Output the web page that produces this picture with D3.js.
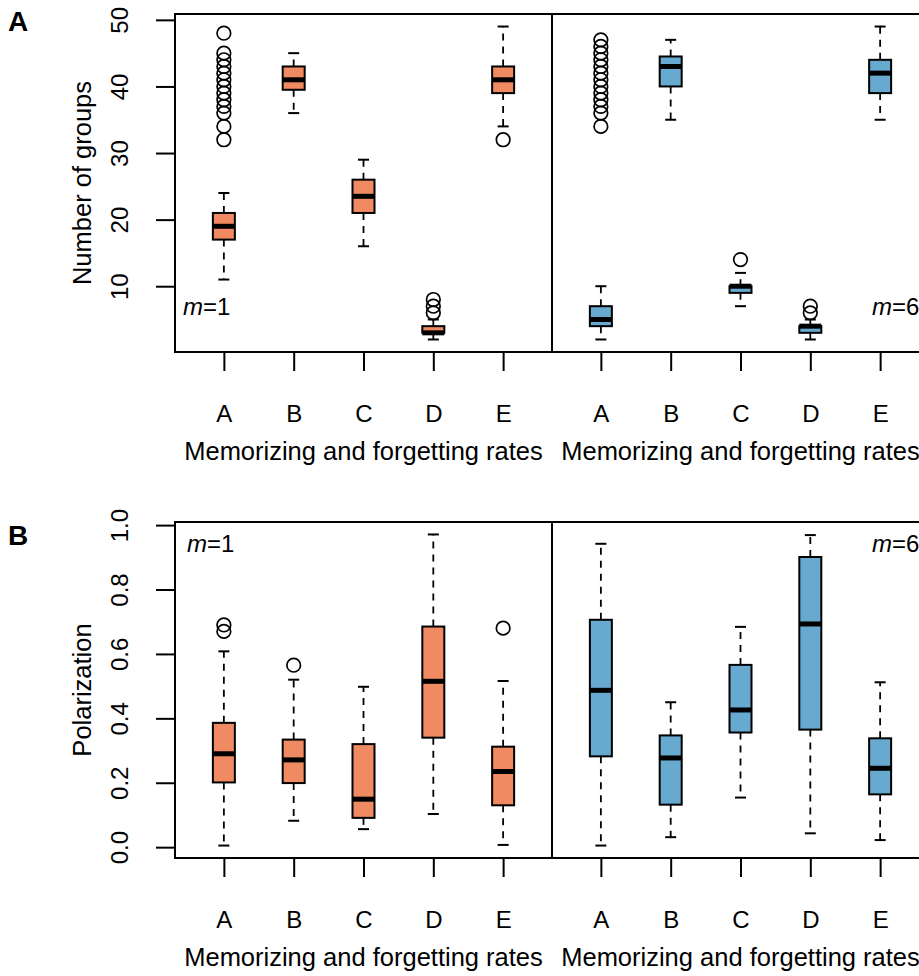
<!DOCTYPE html>
<html>
<head>
<meta charset="utf-8">
<script src="https://cdn.jsdelivr.net/npm/d3@7"></script>
<style>
  html, body { margin: 0; padding: 0; background: #fff; overflow: hidden; }
  svg { display: block; font-family: "Liberation Sans", Arial, Helvetica, sans-serif; }
</style>
</head>
<body>
<svg id="chart" width="919" height="976"></svg>
<script>
// Categories of memorizing / forgetting rates
const categories = ["A", "B", "C", "D", "E"];
const paramLabels = ["1", "6"];

// Five-number summaries [lowerWhisker, Q1, median, Q3, upperWhisker]
// Panel A: number of groups
const groupsM1 = [[11, 17, 19, 21, 24], [36, 39.5, 41, 43, 45], [16, 21, 23.5, 26, 29], [2, 3, 3, 4, 5], [34, 39, 41, 43, 49]];
const groupsM1Out = [[32, 34, 36, 37, 38, 39, 40, 41, 42, 43, 44, 45, 48], [], [], [6, 7, 8], [32]];
const groupsM6 = [[2, 4, 5, 7, 10], [35, 40, 43, 44.5, 47], [7, 9, 10, 10, 12], [2, 3, 4, 4, 5], [35, 39, 42, 44, 49]];
const groupsM6Out = [[34, 36, 37, 38, 39, 40, 41, 42, 43, 44, 45, 46, 47], [], [14], [6, 7], []];
const groupsTicks = [10, 20, 30, 40, 50];

// Panel B: polarization
const polarM1 = [[0.005, 0.201, 0.29, 0.386, 0.608], [0.082, 0.199, 0.271, 0.334, 0.52], [0.056, 0.091, 0.149, 0.32, 0.498], [0.103, 0.34, 0.515, 0.685, 0.971], [0.007, 0.13, 0.235, 0.312, 0.516]];
const polarM1Out = [[0.67, 0.69], [0.565], [], [], [0.68]];
const polarM6 = [[0.005, 0.282, 0.487, 0.706, 0.942], [0.031, 0.132, 0.277, 0.347, 0.45], [0.154, 0.356, 0.426, 0.566, 0.684], [0.043, 0.365, 0.693, 0.901, 0.969], [0.022, 0.164, 0.245, 0.338, 0.512]];
const polarM6Out = [[], [], [], [], []];
const polarTicks = [0.0, 0.2, 0.4, 0.6, 0.8, 1.0];

const colors = ["#EF8A62", "#67A9CF"];

const svg = d3.select("#chart");

const plotW = 377;
const panelX = [175, 552];

// R-style axis range: data extent padded by 4%
function paddedDomain(series) {
  const vals = [];
  series.forEach(s => s.forEach(arr => arr.forEach(v => vals.push(v))));
  const [lo, hi] = d3.extent(vals);
  const pad = (hi - lo) * 0.04;
  return [lo - pad, hi + pad];
}

function drawRow(cfg) {
  const y = d3.scaleLinear().domain(paddedDomain(cfg.all)).range([cfg.bottom, cfg.top]);

  cfg.sets.forEach((set, p) => {
    const x0 = panelX[p];
    const x = d3.scaleLinear().domain([0.3, 5.7]).range([x0, x0 + plotW]);
    const g = svg.append("g");
    const halfBox = 11, halfStaple = 5.5;

    categories.forEach((cat, i) => {
      const s = set.stats[i];
      const cx = x(i + 1);
      // whiskers
      g.append("line").attr("x1", cx).attr("x2", cx).attr("y1", y(s[3])).attr("y2", y(s[4]))
        .attr("stroke", "#000").attr("stroke-width", 1.8).attr("stroke-dasharray", "7,6");
      g.append("line").attr("x1", cx).attr("x2", cx).attr("y1", y(s[1])).attr("y2", y(s[0]))
        .attr("stroke", "#000").attr("stroke-width", 1.8).attr("stroke-dasharray", "7,6");
      // staples
      [s[0], s[4]].forEach(v => {
        g.append("line").attr("x1", cx - halfStaple).attr("x2", cx + halfStaple)
          .attr("y1", y(v)).attr("y2", y(v)).attr("stroke", "#000").attr("stroke-width", 2);
      });
      // box
      g.append("rect").attr("x", cx - halfBox).attr("width", halfBox * 2)
        .attr("y", y(s[3])).attr("height", Math.max(0, y(s[1]) - y(s[3])))
        .attr("fill", colors[p]).attr("stroke", "#000").attr("stroke-width", 2);
      // median
      g.append("line").attr("x1", cx - halfBox).attr("x2", cx + halfBox)
        .attr("y1", y(s[2])).attr("y2", y(s[2])).attr("stroke", "#000").attr("stroke-width", 5);
      // outliers
      set.out[i].forEach(v => {
        g.append("circle").attr("cx", cx).attr("cy", y(v)).attr("r", 6.8)
          .attr("fill", "none").attr("stroke", "#000").attr("stroke-width", 1.7);
      });
    });

    // frame
    g.append("rect").attr("x", x0).attr("y", cfg.top).attr("width", plotW).attr("height", cfg.bottom - cfg.top)
      .attr("fill", "none").attr("stroke", "#000").attr("stroke-width", 2);

    // bottom axis
    const xa = svg.append("g").attr("transform", `translate(0,${cfg.bottom})`)
      .call(d3.axisBottom(x).tickValues([1, 2, 3, 4, 5]).tickFormat(d => categories[d - 1]).tickSize(19));
    xa.select(".domain").remove();
    xa.selectAll(".tick line").attr("stroke", "#000").attr("stroke-width", 2);
    xa.selectAll(".tick text").attr("y", 70).attr("dy", 0)
      .attr("font-size", 24).attr("fill", "#000").style("font-family", "Liberation Sans, Arial, sans-serif");

    // axis title
    svg.append("text").attr("x", x0 + plotW / 2).attr("y", cfg.bottom + 108)
      .attr("text-anchor", "middle").attr("font-size", 25.5).text("Memorizing and forgetting rates");

    // parameter label
    const lab = svg.append("text").attr("font-size", 24)
      .attr("x", p === 0 ? x0 + cfg.labDx : x0 + 320).attr("y", cfg.labY);
    lab.append("tspan").attr("font-style", "italic").text("m");
    lab.append("tspan").text("=" + paramLabels[p]);
  });

  // left axis
  const ya = svg.append("g").attr("transform", `translate(${panelX[0]},0)`)
    .call(d3.axisLeft(y).tickValues(cfg.ticks).tickFormat(cfg.fmt).tickSize(19));
  ya.select(".domain").remove();
  ya.selectAll(".tick line").attr("stroke", "#000").attr("stroke-width", 2);
  ya.selectAll(".tick text").attr("x", 0).attr("dy", 0).attr("text-anchor", "middle")
    .attr("transform", "translate(-47,0) rotate(-90)")
    .attr("font-size", 24).attr("fill", "#000").style("font-family", "Liberation Sans, Arial, sans-serif");

  svg.append("text").attr("transform", `translate(91,${(cfg.top + cfg.bottom) / 2}) rotate(-90)`)
    .attr("text-anchor", "middle").attr("font-size", 25.5).text(cfg.title);

  svg.append("text").attr("x", 8).attr("y", cfg.letterY).attr("font-size", 28).attr("font-weight", "bold")
    .text(cfg.letter);
}

drawRow({
  top: 14, bottom: 352, letter: "A", letterY: 31, title: "Number of groups",
  ticks: groupsTicks, fmt: d3.format("d"),
  all: [groupsM1, groupsM6],
  sets: [{ stats: groupsM1, out: groupsM1Out }, { stats: groupsM6, out: groupsM6Out }],
  labY: 315, labDx: 8
});

drawRow({
  top: 522, bottom: 858, letter: "B", letterY: 545, title: "Polarization",
  ticks: polarTicks, fmt: d3.format(".1f"),
  all: [polarM1, polarM6],
  sets: [{ stats: polarM1, out: polarM1Out }, { stats: polarM6, out: polarM6Out }],
  labY: 552, labDx: 12
});
</script>
</body>
</html>
